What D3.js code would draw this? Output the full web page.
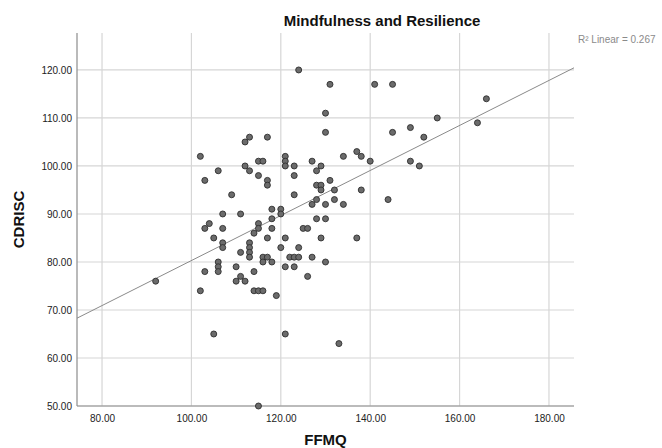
<!DOCTYPE html>
<html>
<head>
<meta charset="utf-8">
<script src="https://cdn.jsdelivr.net/npm/d3@7"></script>
<style>
  body { margin: 0; background: #fff; }
  svg { display: block; font-family: "Liberation Sans", Arial, sans-serif; }
</style>
</head>
<body>
<div id="chart"></div>
<script>
// FFMQ scores (x) and CDRISC scores (y)
var ffmq = [92, 102, 102, 103, 103, 103, 104, 105, 105, 106, 106, 106, 106, 107, 107, 107, 107,
  109, 110, 110, 111, 111, 111, 112, 112, 112, 113, 113, 113, 113, 113, 113, 114, 114, 114,
  115, 115, 115, 115, 115, 115, 116, 116, 116, 116, 117, 117, 117, 117, 117, 118, 118, 118, 118,
  119, 120, 120, 120, 121, 121, 121, 121, 121, 121, 122, 123, 123, 123, 123, 123, 124, 124, 124,
  125, 126, 126, 127, 127, 127, 128, 128, 128, 128, 129, 129, 129, 129, 130, 130, 130, 130, 130,
  131, 131, 132, 132, 133, 134, 134, 137, 137, 138, 138, 140, 141, 144, 145, 145, 149, 149, 151,
  152, 155, 164, 166];
var cdrisc = [76, 102, 74, 97, 87, 78, 88, 85, 65, 99, 80, 79, 78, 90, 87, 84, 83,
  94, 79, 76, 90, 82, 77, 105, 100, 76, 106, 99, 84, 83, 82, 81, 86, 78, 74,
  101, 98, 88, 87, 74, 50, 101, 81, 80, 74, 106, 97, 96, 85, 81, 91, 89, 87, 80,
  73, 91, 90, 83, 102, 101, 100, 85, 79, 65, 81, 100, 98, 94, 81, 79, 120, 83, 81,
  87, 87, 77, 101, 92, 81, 99, 96, 93, 89, 100, 96, 95, 85, 111, 107, 92, 89, 80,
  117, 97, 95, 93, 63, 102, 92, 103, 85, 102, 95, 101, 117, 93, 117, 107, 108, 101, 100,
  106, 110, 109, 114];

var xTicks = [80, 100, 120, 140, 160, 180];
var yTicks = [50, 60, 70, 80, 90, 100, 110, 120];

// linear fit as drawn in the picture
var fitIntercept = 33.4;
var fitSlope = 0.469;
var rSquared = 0.267;

var data = ffmq.map(function (d, i) { return { x: d, y: cdrisc[i] }; });

var svgWidth = 662;
var svgHeight = 448;

var plot = { left: 77, right: 574, top: 33, bottom: 406 };

var svg = d3.select("#chart")
  .append("svg")
  .attr("width", svgWidth)
  .attr("height", svgHeight);

var xScale = d3.scaleLinear()
  .domain([74.4, 185.6])
  .range([plot.left, plot.right]);

var yScale = d3.scaleLinear()
  .domain([50, 127.7])
  .range([plot.bottom, plot.top]);

// gridlines
svg.append("g")
  .selectAll("line")
  .data(xTicks)
  .enter()
  .append("line")
  .attr("x1", d => xScale(d))
  .attr("x2", d => xScale(d))
  .attr("y1", plot.top)
  .attr("y2", plot.bottom)
  .attr("stroke", "#d6d6d6")
  .attr("stroke-width", 1.2);

svg.append("g")
  .selectAll("line")
  .data(yTicks)
  .enter()
  .append("line")
  .attr("x1", plot.left)
  .attr("x2", plot.right)
  .attr("y1", d => yScale(d))
  .attr("y2", d => yScale(d))
  .attr("stroke", "#d6d6d6")
  .attr("stroke-width", 1.2);

// axes
var bottomAxis = d3.axisBottom(xScale)
  .tickValues(xTicks)
  .tickSize(0)
  .tickPadding(9)
  .tickFormat(d3.format(".2f"));

var leftAxis = d3.axisLeft(yScale)
  .tickValues(yTicks)
  .tickSize(0)
  .tickPadding(5)
  .tickFormat(d3.format(".2f"));

var xAxis = svg.append("g")
  .attr("transform", `translate(0, ${plot.bottom})`)
  .call(bottomAxis);

var yAxis = svg.append("g")
  .attr("transform", `translate(${plot.left}, 0)`)
  .call(leftAxis);

[xAxis, yAxis].forEach(function (ax) {
  ax.select(".domain").remove();
  ax.selectAll("text")
    .attr("fill", "#222")
    .style("font-size", "10px")
    .style("font-family", "'Liberation Sans', Arial, sans-serif");
});

svg.append("line")
  .attr("x1", plot.left).attr("x2", plot.left)
  .attr("y1", plot.top).attr("y2", plot.bottom)
  .attr("stroke", "#8c8c8c")
  .attr("stroke-width", 1.2);

svg.append("line")
  .attr("x1", plot.left).attr("x2", plot.right)
  .attr("y1", plot.bottom).attr("y2", plot.bottom)
  .attr("stroke", "#8c8c8c")
  .attr("stroke-width", 1.2);

// fit line
var xd = xScale.domain();
svg.append("line")
  .attr("x1", xScale(xd[0]))
  .attr("y1", yScale(fitIntercept + fitSlope * xd[0]))
  .attr("x2", xScale(xd[1]))
  .attr("y2", yScale(fitIntercept + fitSlope * xd[1]))
  .attr("stroke", "#8a8a8a")
  .attr("stroke-width", 1);

// points
svg.append("g")
  .selectAll("circle")
  .data(data)
  .enter()
  .append("circle")
  .attr("cx", d => xScale(d.x))
  .attr("cy", d => yScale(d.y))
  .attr("r", 3)
  .attr("fill", "#6b6b6b")
  .attr("stroke", "#2e2e2e")
  .attr("stroke-width", 0.9);

// titles
svg.append("text")
  .attr("x", 382)
  .attr("y", 26)
  .attr("text-anchor", "middle")
  .style("font-size", "15px")
  .style("font-weight", "bold")
  .attr("fill", "#111")
  .text("Mindfulness and Resilience");

svg.append("text")
  .attr("x", (plot.left + plot.right) / 2)
  .attr("y", 445)
  .attr("text-anchor", "middle")
  .style("font-size", "15px")
  .style("font-weight", "bold")
  .attr("fill", "#111")
  .text("FFMQ");

svg.append("text")
  .attr("transform", "rotate(-90)")
  .attr("x", -(plot.top + plot.bottom) / 2)
  .attr("y", 24)
  .attr("text-anchor", "middle")
  .style("font-size", "15px")
  .style("font-weight", "bold")
  .attr("fill", "#111")
  .text("CDRISC");

svg.append("text")
  .attr("x", 578)
  .attr("y", 43)
  .style("font-size", "10px")
  .attr("fill", "#8a8a8a")
  .text("R\u00b2 Linear = " + rSquared);
</script>
</body>
</html>
